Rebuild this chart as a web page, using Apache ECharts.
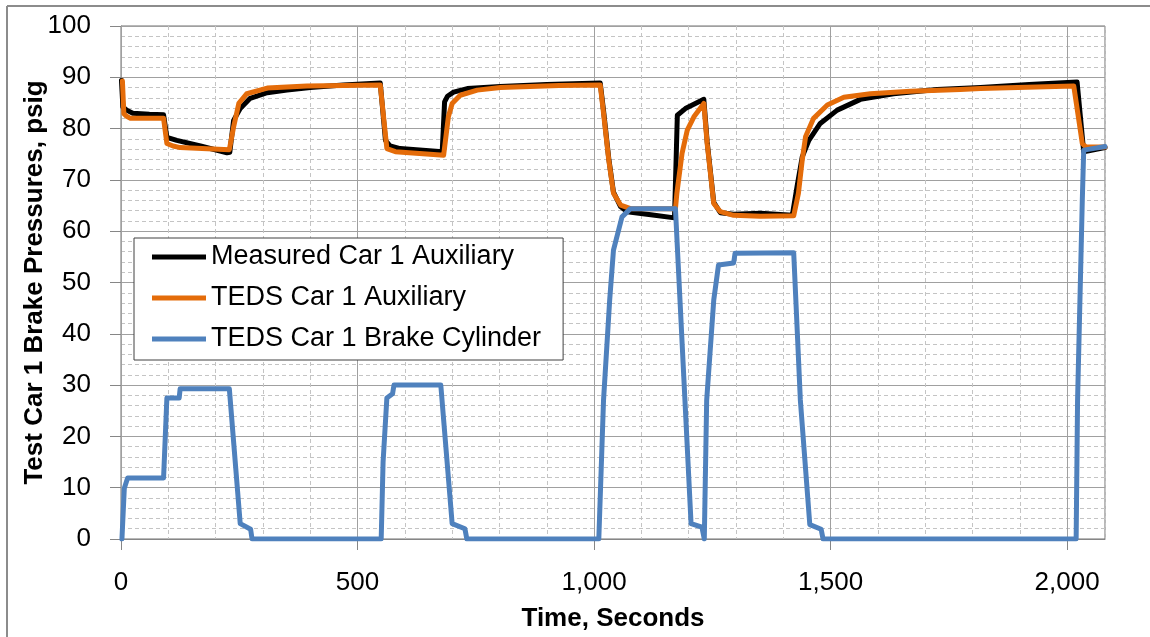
<!DOCTYPE html>
<html>
<head>
<meta charset="utf-8">
<title>Test Car 1 Brake Pressures</title>
<script src="https://cdn.jsdelivr.net/npm/echarts@6/dist/echarts.min.js"></script>
<style>
  html, body { margin: 0; padding: 0; background: #fff; }
  #myChart { width: 1150px; height: 637px; }
</style>
</head>
<body>
<div id="myChart"></div>
<script>
// 数据
const seriesNames = ['Measured Car 1 Auxiliary', 'TEDS Car 1 Auxiliary', 'TEDS Car 1 Brake Cylinder']
const xTicks = [0, 500, 1000, 1500, 2000]

const measuredT = [1, 4, 12, 25, 60, 90, 97, 118, 168, 224, 230, 238, 252, 273, 309, 351, 400, 470, 548, 559, 569, 590, 679, 684, 690, 703, 732, 802, 900, 1013, 1020, 1031, 1041, 1056, 1070, 1120, 1170, 1176, 1193, 1232, 1239, 1253, 1267, 1295, 1352, 1419, 1429, 1440, 1454, 1478, 1514, 1563, 1633, 1725, 1817, 1920, 2021, 2035, 2080]
const measuredP = [89.4, 84.2, 83.6, 83.0, 82.8, 82.7, 78.3, 77.7, 76.6, 75.3, 75.4, 81.6, 83.9, 85.9, 87.0, 87.5, 88.0, 88.5, 88.9, 77.7, 76.6, 76.1, 75.5, 85.2, 86.3, 87.1, 87.8, 88.2, 88.6, 88.9, 83.5, 74.2, 67.6, 64.8, 63.8, 63.2, 62.6, 82.6, 83.9, 85.7, 77.5, 65.6, 63.6, 63.3, 63.5, 63.1, 68.7, 74.5, 77.7, 81.0, 83.6, 85.7, 86.8, 87.6, 88.0, 88.6, 89.1, 75.5, 76.3]

const tedsAuxT = [3, 6, 12, 20, 90, 97, 110, 125, 229, 238, 249, 266, 309, 393, 548, 562, 580, 682, 692, 700, 717, 753, 802, 926, 1013, 1020, 1031, 1041, 1056, 1077, 1172, 1175, 1186, 1197, 1211, 1232, 1239, 1253, 1267, 1295, 1352, 1422, 1432, 1440, 1447, 1464, 1493, 1528, 1584, 1669, 1774, 1817, 2014, 2032, 2040, 2080]
const tedsAuxP = [89.3, 82.9, 82.4, 82.0, 82.0, 77.1, 76.6, 76.3, 75.9, 80.3, 84.9, 86.8, 87.9, 88.3, 88.5, 76.1, 75.5, 74.8, 82.3, 84.9, 86.5, 87.5, 88.0, 88.4, 88.5, 83.0, 73.9, 67.4, 65.1, 64.4, 64.4, 67.4, 75.2, 79.7, 82.3, 84.9, 77.1, 65.4, 63.8, 63.1, 62.9, 63.0, 67.4, 73.9, 78.4, 82.0, 84.6, 86.1, 86.8, 87.3, 87.6, 87.8, 88.3, 77.1, 76.4, 76.4]

const cylinderT = [2, 7, 10, 14, 90, 97, 123, 125, 229, 252, 274, 277, 550, 554, 562, 574, 577, 676, 700, 727, 731, 1010, 1020, 1033, 1041, 1059, 1077, 1172, 1205, 1228, 1233, 1238, 1253, 1263, 1295, 1298, 1422, 1436, 1456, 1480, 1484, 2019, 2022, 2032, 2035, 2080]
const cylinderP = [0, 9.9, 10.0, 11.9, 11.9, 27.5, 27.5, 29.3, 29.3, 3.0, 1.9, 0, 0, 15.0, 27.5, 28.3, 30.0, 30.0, 3.0, 2.0, 0, 0, 27.1, 46.6, 56.3, 62.8, 64.4, 64.4, 3.0, 2.3, 0, 27.0, 46.6, 53.4, 53.8, 55.7, 55.8, 27.1, 2.8, 1.9, 0, 0, 27.0, 66.0, 75.8, 76.5]

function pairs(ts, vs) {
  return ts.map((t, i) => [t, vs[i]])
}

const font = 'Liberation Sans, Arial, sans-serif'

let option = {
  animation: false,
  backgroundColor: '#fff',
  // 外框 (only top and left edges are visible in the picture)
  graphic: [
    { type: 'line', shape: { x1: 7, y1: 6, x2: 1150, y2: 6 }, style: { stroke: '#8c8c8c', lineWidth: 2 } },
    { type: 'line', shape: { x1: 7, y1: 6, x2: 7, y2: 637 }, style: { stroke: '#8c8c8c', lineWidth: 2 } }
  ],
  grid: {
    left: 121,
    right: 45,
    top: 26,
    bottom: 98,
    show: true,
    borderColor: '#707070',
    borderWidth: 1
  },
  legend: {
    orient: 'vertical',
    left: 134,
    top: 238,
    data: seriesNames,
    icon: 'rect',
    itemWidth: 54,
    itemHeight: 5,
    itemGap: 11,
    padding: [4, 22, 6, 18],
    backgroundColor: '#fff',
    borderColor: '#404040',
    borderWidth: 1,
    textStyle: { fontFamily: font, fontSize: 27, color: '#000', lineHeight: 30 }
  },
  xAxis: [
    {
      type: 'value',
      min: 0,
      max: 2080,
      interval: 500,
      z: 2,
      name: 'Time, Seconds',
      nameLocation: 'middle',
      nameGap: 67,
      nameTextStyle: { fontFamily: font, fontSize: 26, fontWeight: 'bold', color: '#000' },
      axisLine: { show: true, onZero: false, lineStyle: { color: '#868686', width: 1 } },
      axisTick: { show: true, length: 11, customValues: xTicks, lineStyle: { color: '#868686' } },
      axisLabel: {
        customValues: xTicks,
        margin: 31,
        fontFamily: font,
        fontSize: 26,
        color: '#000',
        formatter: v => v.toLocaleString('en-US')
      },
      splitLine: { show: true, lineStyle: { color: '#a0a0a0', width: 1, type: 'solid' } }
    },
    {
      // 次网格线 every 100 s
      type: 'value',
      min: 0,
      max: 2080,
      interval: 100,
      z: 1,
      axisLine: { show: false },
      axisTick: { show: false },
      axisLabel: { show: false },
      splitLine: { show: true, lineStyle: { color: '#c4c4c4', width: 1, type: [4, 3] } }
    }
  ],
  yAxis: {
    type: 'value',
    min: 0,
    max: 100,
    interval: 10,
    name: 'Test Car 1 Brake Pressures, psig',
    nameLocation: 'middle',
    nameGap: 73,
    nameMoveOverlap: false,
    nameTextStyle: { fontFamily: font, fontSize: 26, fontWeight: 'bold', color: '#000' },
    axisLine: { show: true, lineStyle: { color: '#868686', width: 1 } },
    axisTick: { show: true, length: 11, lineStyle: { color: '#868686' } },
    axisLabel: { margin: 30, fontFamily: font, fontSize: 26, color: '#000' },
    splitLine: { show: true, lineStyle: { color: '#a0a0a0', width: 1, type: 'solid' } },
    minorTick: { show: false, splitNumber: 5 },
    minorSplitLine: { show: true, lineStyle: { color: '#c4c4c4', width: 1, type: [4, 3] } }
  },
  series: [
    {
      name: seriesNames[0],
      type: 'line',
      xAxisIndex: 0,
      data: pairs(measuredT, measuredP),
      showSymbol: false,
      color: '#000000',
      lineStyle: { color: '#000000', width: 5, join: 'round', cap: 'round' },
      z: 3
    },
    {
      name: seriesNames[1],
      type: 'line',
      xAxisIndex: 0,
      data: pairs(tedsAuxT, tedsAuxP),
      showSymbol: false,
      color: '#E46C0A',
      lineStyle: { color: '#E46C0A', width: 5, join: 'round', cap: 'round' },
      z: 4
    },
    {
      name: seriesNames[2],
      type: 'line',
      xAxisIndex: 0,
      data: pairs(cylinderT, cylinderP),
      showSymbol: false,
      color: '#4F81BD',
      lineStyle: { color: '#4F81BD', width: 5, join: 'round', cap: 'round' },
      z: 5
    }
  ]
}

let myChart = echarts.init(document.getElementById('myChart'))
myChart.setOption(option)
</script>
</body>
</html>
